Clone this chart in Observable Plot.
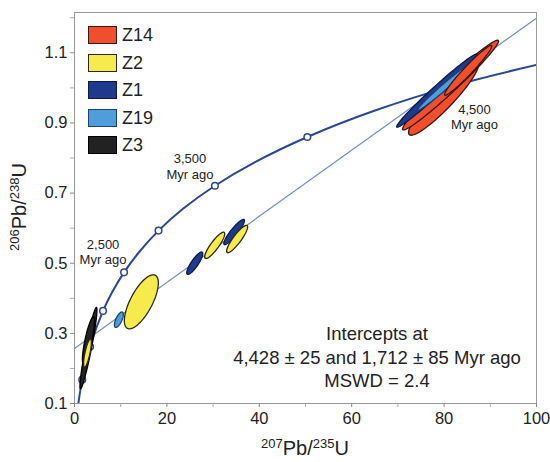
<!DOCTYPE html>
<html><head><meta charset="utf-8">
<script src="https://cdn.jsdelivr.net/npm/d3@7"></script>
<script src="https://cdn.jsdelivr.net/npm/@observablehq/plot@0.6"></script>
<style>
body{margin:0;background:#fff;font-family:"Liberation Sans",Arial,Helvetica,sans-serif;color:#222}
#wrap{position:relative;width:550px;height:462px;overflow:hidden}
#wrap svg{position:absolute;left:0;top:0}
.legend{position:absolute;left:88px;top:26px}
.row{height:27.5px;display:flex;align-items:flex-start}
.sw{width:27px;height:16px;border:1px solid #333;box-sizing:content-box}
.lab{font-size:18px;line-height:18px;margin-left:5px}
.xlab{position:absolute;left:305px;top:436px;transform:translateX(-50%);font-size:20px;line-height:24px;white-space:nowrap}
.ylab{position:absolute;left:20px;top:207px;transform:translate(-50%,-50%) rotate(-90deg);font-size:20px;line-height:24px;white-space:nowrap}
sup{font-size:13px;vertical-align:0;position:relative;top:-7px}
.note{position:absolute;left:377px;top:322px;transform:translateX(-50%);font-size:18.5px;line-height:23.5px;text-align:center;white-space:nowrap}
</style></head>
<body><div id="wrap"></div>
<script>
// Axis ticks
const xTicks = [0, 20, 40, 60, 80, 100];
const xMinor = [10, 30, 50, 70, 90];
const yTicks = [0.1, 0.3, 0.5, 0.7, 0.9, 1.1];
const yMinor = [0.2, 0.4, 0.6, 0.8, 1.0, 1.2];

// Concordia curve (age in Myr, 207Pb/235U, 206Pb/238U)
const concAge = [0, 500, 1000, 1500, 2000, 2250, 2500, 2750, 3000, 3250, 3500, 3750, 4000, 4250, 4500, 4690];
const concX = [0, 0.636, 1.677, 3.381, 6.17, 8.17, 10.73, 14.0, 18.19, 23.55, 30.40, 39.18, 50.40, 64.73, 83.10, 101.4];
const concY = [0, 0.0807, 0.168, 0.262, 0.364, 0.418, 0.474, 0.532, 0.593, 0.656, 0.721, 0.789, 0.860, 0.934, 1.010, 1.070];
const markerAges = [1000, 1500, 2000, 2500, 3000, 3500, 4000, 4500];

// Discordia chord
const chordX = [0, 100];
const chordY = [0.257, 1.199];

// Age labels
const labelAges = [2500, 3500, 4500];
const labelTexts = ["2,500\nMyr ago", "3,500\nMyr ago", "4,500\nMyr ago"];

// Error ellipses: grain, centre, sigma x, sigma y, correlation
const ellGrain = ["Z3", "Z3", "Z2", "Z19", "Z2", "Z1", "Z2", "Z1", "Z2", "Z14", "Z14", "Z1", "Z19", "Z14"];
const ellCx  = [3.02, 3.02, 2.81, 9.61, 14.47, 26.03, 30.35, 34.56, 35.2, 79.9, 81.4, 78.4, 80.1, 85.2];
const ellCy  = [0.258, 0.280, 0.244, 0.339, 0.390, 0.500, 0.551, 0.589, 0.569, 0.970, 1.008, 0.992, 1.003, 1.050];
const ellSx  = [1.84, 1.31, 0.84, 0.96, 3.68, 1.74, 2.17, 2.24, 2.27, 7.60, 10.40, 8.66, 5.85, 5.11];
const ellSy  = [0.116, 0.067, 0.040, 0.022, 0.077, 0.032, 0.0375, 0.036, 0.039, 0.105, 0.128, 0.104, 0.067, 0.071];
const ellRho = [0.934, 0.807, 0.751, 0.676, 0.698, 0.854, 0.875, 0.904, 0.884, 0.925, 0.980, 0.986, 0.986, 0.970];

// Legend
const grains = ["Z14", "Z2", "Z1", "Z19", "Z3"];

const fillOf = {Z14: "#f04e2c", Z2: "#f6ea4c", Z1: "#1f3a8c", Z19: "#4f9edb", Z3: "#222222"};
const strokeOf = {Z14: "#3a1610", Z2: "#2a2a10", Z1: "#0c1a48", Z19: "#1d3f73", Z3: "#000000"};

const conc = concAge.map((a, i) => ({age: a, x: concX[i], y: concY[i]}));
const chord = chordX.map((x, i) => ({x, y: chordY[i]}));
const markers = conc.filter(d => markerAges.includes(d.age));

function ellipse(i, n = 100) {
  const s = Math.sqrt(1 - ellRho[i] * ellRho[i]);
  return d3.range(n + 1).map(k => {
    const t = 2 * Math.PI * k / n;
    return {x: ellCx[i] + ellSx[i] * Math.cos(t), y: ellCy[i] + ellSy[i] * (ellRho[i] * Math.cos(t) + s * Math.sin(t))};
  });
}

const ellMarks = ellGrain.map((g, i) => Plot.line(ellipse(i), {
  x: "x", y: "y", fill: fillOf[g], stroke: strokeOf[g], strokeWidth: 1.3, clip: true
}));

const labelOffsets = [[-21, -21], [-25, -20], [16, 32]];
const labelMarks = labelAges.map((a, i) => {
  const p = conc.find(d => d.age === a);
  return Plot.text([p], {x: "x", y: "y", text: () => labelTexts[i], dx: labelOffsets[i][0], dy: labelOffsets[i][1],
    fontSize: 13, lineHeight: 1.2, fill: "#222", textAnchor: "middle", lineAnchor: "middle"});
});

const svg = Plot.plot({
  width: 550, height: 462,
  marginTop: 12, marginLeft: 74, marginRight: 14, marginBottom: 59,
  x: {domain: [0, 100]},
  y: {domain: [0.1, 1.215]},
  style: {fontFamily: "'Liberation Sans', Arial, Helvetica, sans-serif", fontSize: "16.5px", background: "#fff", color: "#222"},
  marks: [
    Plot.frame({stroke: "#999", strokeWidth: 1}),
    Plot.axisX({ticks: xTicks, tickSize: 4, tickPadding: 5, label: null, stroke: "#888", tickFormat: d => String(d)}),
    Plot.axisX({ticks: xMinor, tickSize: 4, label: null, stroke: "#aaa", tickFormat: () => ""}),
    Plot.axisY({ticks: yTicks, tickSize: 4, tickPadding: 3, label: null, stroke: "#888", tickFormat: d => d.toFixed(1)}),
    Plot.axisY({ticks: yMinor, tickSize: 4, label: null, stroke: "#aaa", tickFormat: () => ""}),
    Plot.line(chord, {x: "x", y: "y", stroke: "#7090c4", strokeWidth: 1.2, clip: true}),
    Plot.line(conc, {x: "x", y: "y", stroke: "#2b4793", strokeWidth: 2, curve: "catmull-rom", clip: true}),
    Plot.dot(markers, {x: "x", y: "y", r: 3.3, fill: "#fff", stroke: "#2b4793", strokeWidth: 1.5, clip: true}),
    ...ellMarks,
    ...labelMarks
  ]
});

const wrap = document.getElementById("wrap");
wrap.appendChild(svg);

const leg = document.createElement("div");
leg.className = "legend";
grains.forEach(g => {
  const r = document.createElement("div"); r.className = "row";
  const sw = document.createElement("span"); sw.className = "sw";
  sw.style.background = fillOf[g]; sw.style.borderColor = strokeOf[g];
  const t = document.createElement("span"); t.className = "lab"; t.textContent = g;
  r.appendChild(sw); r.appendChild(t); leg.appendChild(r);
});
wrap.appendChild(leg);

const note = document.createElement("div");
note.className = "note";
note.innerHTML = "Intercepts at<br>4,428 ± 25 and 1,712 ± 85 Myr ago<br>MSWD = 2.4";
wrap.appendChild(note);

const xl = document.createElement("div");
xl.className = "xlab";
xl.innerHTML = "<sup>207</sup>Pb/<sup>235</sup>U";
wrap.appendChild(xl);

const yl = document.createElement("div");
yl.className = "ylab";
yl.innerHTML = "<sup>206</sup>Pb/<sup>238</sup>U";
wrap.appendChild(yl);
</script>
</body></html>
